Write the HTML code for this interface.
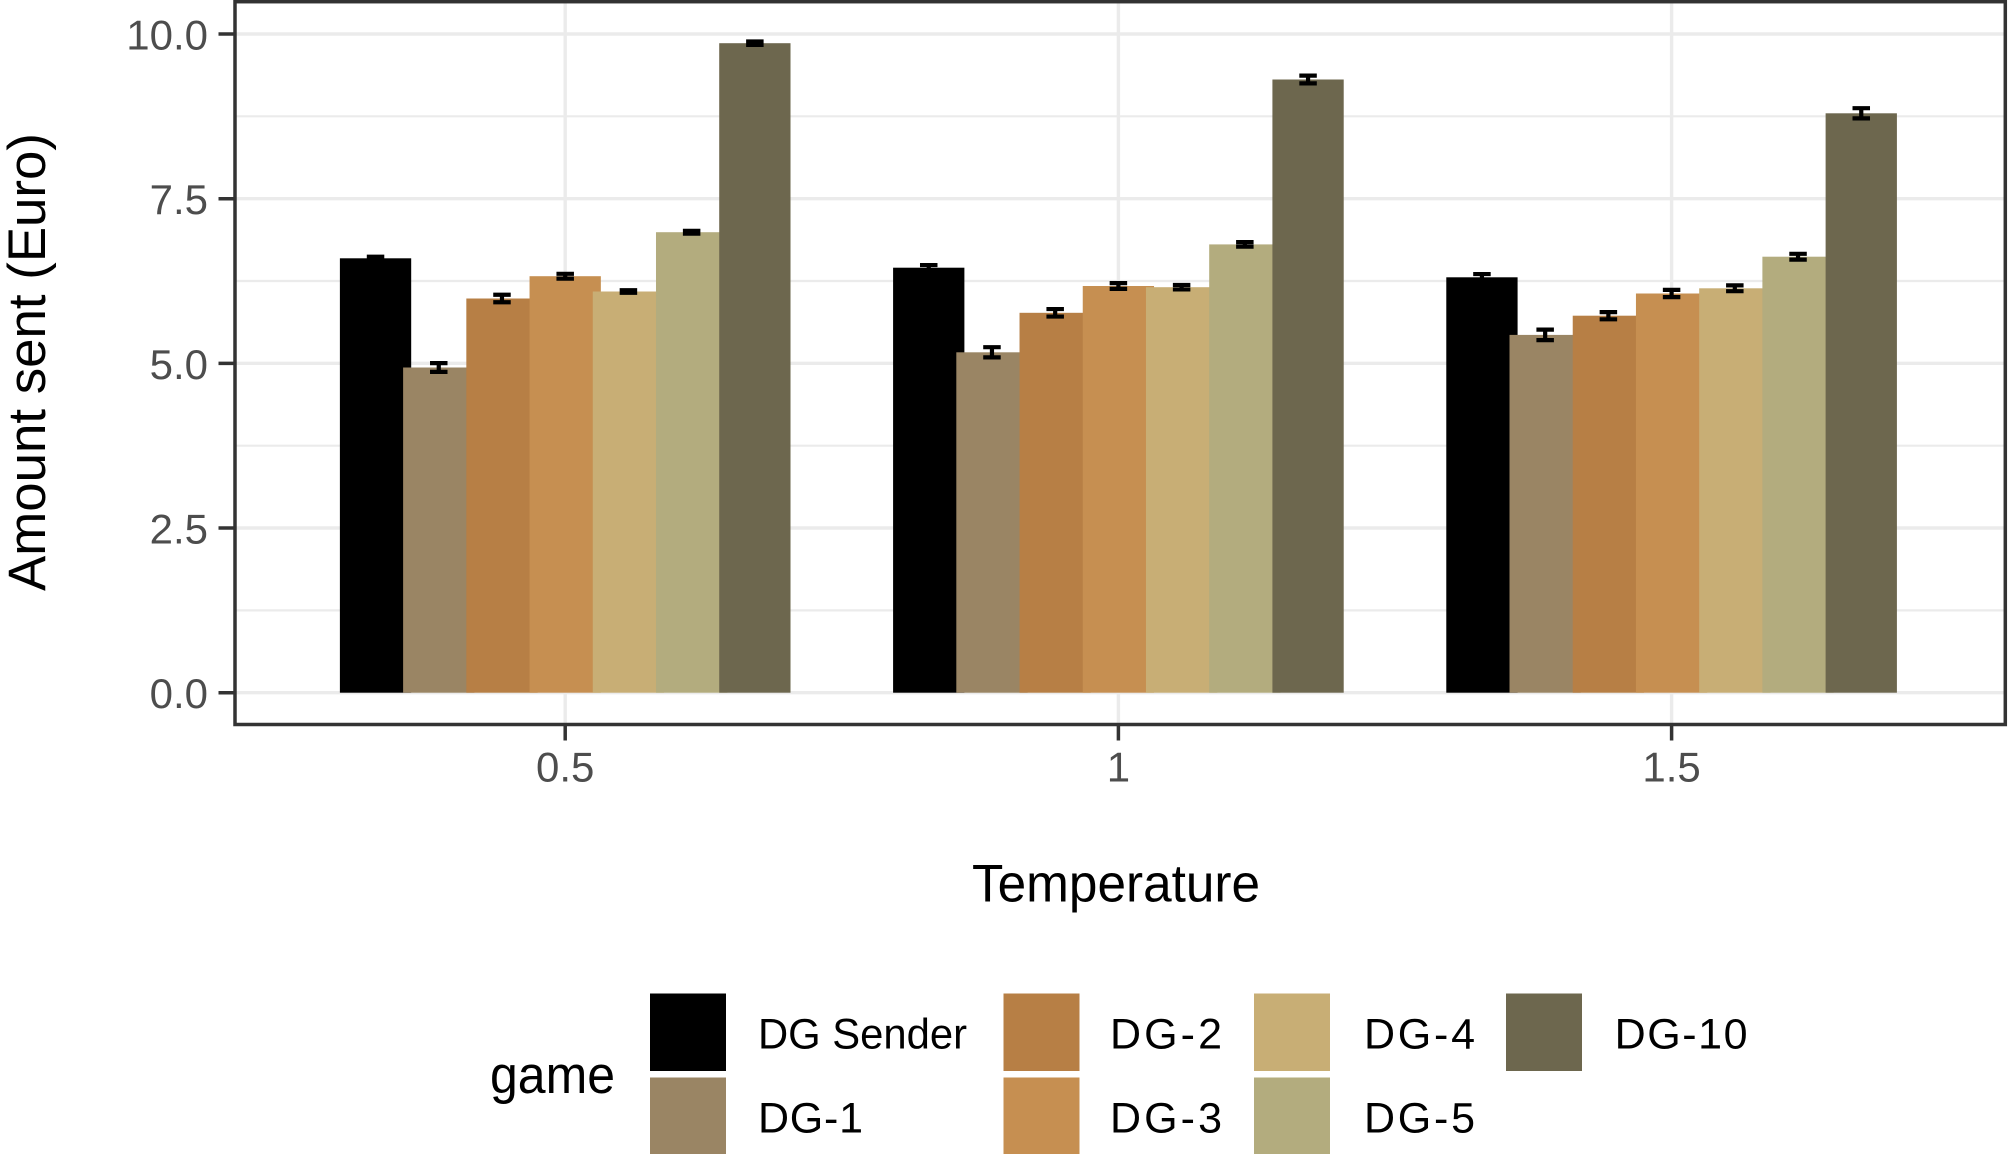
<!DOCTYPE html>
<html>
<head>
<meta charset="utf-8">
<style>
  html, body { margin: 0; padding: 0; background: #ffffff; }
  svg { display: block; }
  text { font-family: "Liberation Sans", "DejaVu Sans", sans-serif; }
</style>
</head>
<body>
<svg width="2008" height="1154" viewBox="0 0 2008 1154" xmlns="http://www.w3.org/2000/svg">
  <rect x="0" y="0" width="2008" height="1154" fill="#ffffff"/>

  <!-- minor gridlines -->
  <g stroke="#ebebeb" stroke-width="2.2" fill="none">
    <line x1="235" y1="610.4" x2="2005" y2="610.4"/>
    <line x1="235" y1="445.7" x2="2005" y2="445.7"/>
    <line x1="235" y1="281.0" x2="2005" y2="281.0"/>
    <line x1="235" y1="116.3" x2="2005" y2="116.3"/>
  </g>
  <!-- major gridlines -->
  <g stroke="#ebebeb" stroke-width="3.4" fill="none">
    <line x1="235" y1="692.7" x2="2005" y2="692.7"/>
    <line x1="235" y1="528.0" x2="2005" y2="528.0"/>
    <line x1="235" y1="363.35" x2="2005" y2="363.35"/>
    <line x1="235" y1="198.7" x2="2005" y2="198.7"/>
    <line x1="235" y1="34.0" x2="2005" y2="34.0"/>
    <line x1="565.2" y1="1.7" x2="565.2" y2="724.5"/>
    <line x1="1118.4" y1="1.7" x2="1118.4" y2="724.5"/>
    <line x1="1671.6" y1="1.7" x2="1671.6" y2="724.5"/>
  </g>

  <!-- bars group 0.5 -->
  <rect x="339.89" y="258.3" width="71.3" height="434.4" fill="#000000"/>
  <rect x="403.11" y="367.5" width="71.3" height="325.2" fill="#9a8564"/>
  <rect x="466.33" y="298.5" width="71.3" height="394.2" fill="#b77f45"/>
  <rect x="529.55" y="276.2" width="71.3" height="416.5" fill="#c68f51"/>
  <rect x="592.77" y="291.5" width="71.3" height="401.2" fill="#c8ae75"/>
  <rect x="655.99" y="232.2" width="71.3" height="460.5" fill="#b3ac7e"/>
  <rect x="719.21" y="43.2" width="71.3" height="649.5" fill="#6d674e"/>

  <!-- bars group 1 -->
  <rect x="893.09" y="267.7" width="71.3" height="425.0" fill="#000000"/>
  <rect x="956.31" y="352.3" width="71.3" height="340.4" fill="#9a8564"/>
  <rect x="1019.53" y="312.8" width="71.3" height="379.9" fill="#b77f45"/>
  <rect x="1082.75" y="286.0" width="71.3" height="406.7" fill="#c68f51"/>
  <rect x="1145.97" y="287.2" width="71.3" height="405.5" fill="#c8ae75"/>
  <rect x="1209.19" y="244.4" width="71.3" height="448.3" fill="#b3ac7e"/>
  <rect x="1272.41" y="79.5" width="71.3" height="613.2" fill="#6d674e"/>

  <!-- bars group 1.5 -->
  <rect x="1446.29" y="277.3" width="71.3" height="415.4" fill="#000000"/>
  <rect x="1509.51" y="334.9" width="71.3" height="357.8" fill="#9a8564"/>
  <rect x="1572.73" y="315.7" width="71.3" height="377.0" fill="#b77f45"/>
  <rect x="1635.95" y="293.5" width="71.3" height="399.2" fill="#c68f51"/>
  <rect x="1699.17" y="288.3" width="71.3" height="404.4" fill="#c8ae75"/>
  <rect x="1762.39" y="256.7" width="71.3" height="436.0" fill="#b3ac7e"/>
  <rect x="1825.61" y="113.3" width="71.3" height="579.4" fill="#6d674e"/>

  <!-- error bars -->
  <g stroke="#000000" stroke-width="4.2" fill="none" stroke-linecap="butt">
    <path d="M366.79,256.75H384.29M375.54,256.75V259.85M366.79,259.85H384.29"/>
    <path d="M430.01,363.1H447.51M438.76,363.1V371.9M430.01,371.9H447.51"/>
    <path d="M493.23,294.75H510.73M501.98,294.75V302.25M493.23,302.25H510.73"/>
    <path d="M556.45,273.8H573.95M565.2,273.8V278.6M556.45,278.6H573.95"/>
    <path d="M619.67,290.25H637.17M628.42,290.25V292.75M619.67,292.75H637.17"/>
    <path d="M682.89,230.8H700.39M691.64,230.8V233.6M682.89,233.6H700.39"/>
    <path d="M746.11,41.45H763.61M754.86,41.45V44.95M746.11,44.95H763.61"/>

    <path d="M919.99,265.05H937.49M928.74,265.05V270.35M919.99,270.35H937.49"/>
    <path d="M983.21,347.2H1000.71M991.96,347.2V357.4M983.21,357.4H1000.71"/>
    <path d="M1046.43,309.05H1063.93M1055.18,309.05V316.55M1046.43,316.55H1063.93"/>
    <path d="M1109.65,283.1H1127.15M1118.4,283.1V288.9M1109.65,288.9H1127.15"/>
    <path d="M1172.87,284.95H1190.37M1181.62,284.95V289.45M1172.87,289.45H1190.37"/>
    <path d="M1236.09,242.15H1253.59M1244.84,242.15V246.65M1236.09,246.65H1253.59"/>
    <path d="M1299.31,75.6H1316.81M1308.06,75.6V83.4M1299.31,83.4H1316.81"/>

    <path d="M1473.19,274.05H1490.69M1481.94,274.05V280.55M1473.19,280.55H1490.69"/>
    <path d="M1536.41,329.65H1553.91M1545.16,329.65V340.15M1536.41,340.15H1553.91"/>
    <path d="M1599.63,312.1H1617.13M1608.38,312.1V319.3M1599.63,319.3H1617.13"/>
    <path d="M1662.85,289.9H1680.35M1671.6,289.9V297.1M1662.85,297.1H1680.35"/>
    <path d="M1726.07,285.4H1743.57M1734.82,285.4V291.2M1726.07,291.2H1743.57"/>
    <path d="M1789.29,253.8H1806.79M1798.04,253.8V259.6M1789.29,259.6H1806.79"/>
    <path d="M1852.51,108.2H1870.01M1861.26,108.2V118.4M1852.51,118.4H1870.01"/>
  </g>

  <!-- panel border -->
  <rect x="235" y="1.7" width="1770.3" height="722.8" fill="none" stroke="#333333" stroke-width="3.5"/>

  <!-- axis ticks -->
  <g stroke="#333333" stroke-width="3.5">
    <line x1="218.5" y1="34.0" x2="235" y2="34.0"/>
    <line x1="218.5" y1="198.7" x2="235" y2="198.7"/>
    <line x1="218.5" y1="363.35" x2="235" y2="363.35"/>
    <line x1="218.5" y1="528.0" x2="235" y2="528.0"/>
    <line x1="218.5" y1="692.7" x2="235" y2="692.7"/>
    <line x1="565.2" y1="724.5" x2="565.2" y2="740.5"/>
    <line x1="1118.4" y1="724.5" x2="1118.4" y2="740.5"/>
    <line x1="1671.6" y1="724.5" x2="1671.6" y2="740.5"/>
  </g>

  <!-- y tick labels -->
  <g fill="#4d4d4d" font-size="42" text-anchor="end">
    <text x="208" y="49.5">10.0</text>
    <text x="208" y="214.2">7.5</text>
    <text x="208" y="378.9">5.0</text>
    <text x="208" y="543.5">2.5</text>
    <text x="208" y="708.2">0.0</text>
  </g>
  <!-- x tick labels -->
  <g fill="#4d4d4d" font-size="42" text-anchor="middle">
    <text x="565.2" y="781.5">0.5</text>
    <text x="1118.4" y="781.5">1</text>
    <text x="1671.6" y="781.5">1.5</text>
  </g>

  <!-- axis titles -->
  <text x="1116" y="901.7" font-size="53" text-anchor="middle" fill="#000000" textLength="288" lengthAdjust="spacingAndGlyphs">Temperature</text>
  <text transform="translate(45,362) rotate(-90)" x="0" y="0" font-size="53" text-anchor="middle" fill="#000000" textLength="458" lengthAdjust="spacingAndGlyphs">Amount sent (Euro)</text>

  <!-- legend -->
  <text x="490" y="1093" font-size="53" fill="#000000" textLength="125" lengthAdjust="spacingAndGlyphs">game</text>

  <rect x="650" y="993.5" width="76" height="77.5" fill="#000000"/>
  <rect x="650" y="1077.5" width="76" height="77.5" fill="#9a8564"/>
  <rect x="1003.5" y="993.5" width="76" height="77.5" fill="#b77f45"/>
  <rect x="1003.5" y="1077.5" width="76" height="77.5" fill="#c68f51"/>
  <rect x="1254" y="993.5" width="76" height="77.5" fill="#c8ae75"/>
  <rect x="1254" y="1077.5" width="76" height="77.5" fill="#b3ac7e"/>
  <rect x="1506" y="993.5" width="76" height="77.5" fill="#6d674e"/>

  <g font-size="43" fill="#000000">
    <text x="758" y="1048.3" textLength="209" lengthAdjust="spacingAndGlyphs">DG Sender</text>
    <text x="758" y="1132.3" textLength="105" lengthAdjust="spacing">DG-1</text>
    <text x="1110" y="1048.3" textLength="112" lengthAdjust="spacing">DG-2</text>
    <text x="1110" y="1132.3" textLength="112" lengthAdjust="spacing">DG-3</text>
    <text x="1364" y="1048.3" textLength="111" lengthAdjust="spacing">DG-4</text>
    <text x="1364" y="1132.3" textLength="111" lengthAdjust="spacing">DG-5</text>
    <text x="1614.6" y="1048.3" textLength="133" lengthAdjust="spacing">DG-10</text>
  </g>
</svg>
</body>
</html>
